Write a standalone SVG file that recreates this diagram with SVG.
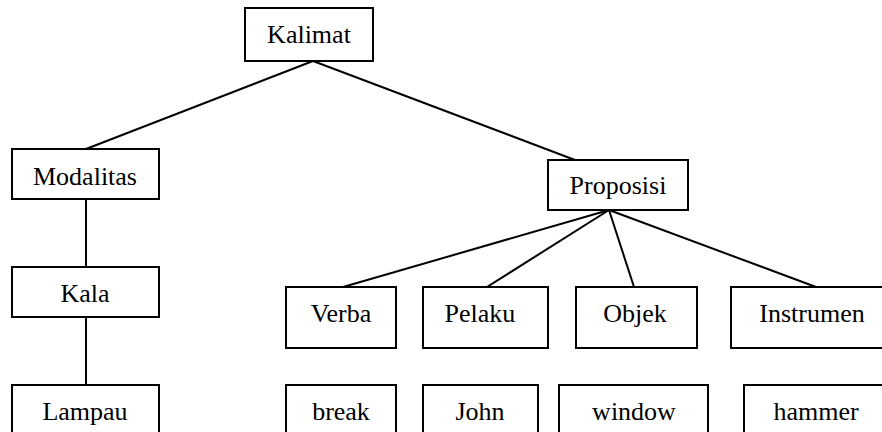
<svg xmlns="http://www.w3.org/2000/svg" width="882" height="432" viewBox="0 0 882 432">
<style>
.box{fill:#fff;stroke:#000;stroke-width:2}
.lbl{font-family:"Liberation Serif","Times New Roman",serif;font-size:26px;fill:#000;text-anchor:middle}
.edge{stroke:#000;stroke-width:2;fill:none}
</style>
<rect width="882" height="432" fill="#fff"/>
<g id="connectors">
<line class="edge" x1="313" y1="61" x2="86" y2="149"/>
<line class="edge" x1="313" y1="61" x2="575" y2="160"/>
<line class="edge" x1="86" y1="199" x2="86" y2="267"/>
<line class="edge" x1="86" y1="317" x2="86" y2="385"/>
<line class="edge" x1="609" y1="210" x2="343" y2="287"/>
<line class="edge" x1="609" y1="210" x2="487" y2="287"/>
<line class="edge" x1="609" y1="210" x2="634" y2="287"/>
<line class="edge" x1="609" y1="210" x2="816" y2="287"/>
</g>
<g id="kalimat"><rect class="box" x="245" y="8" width="128" height="53"/><text class="lbl" x="309" y="43">Kalimat</text></g>
<g id="modalitas"><rect class="box" x="12" y="149" width="147" height="50"/><text class="lbl" x="85" y="185">Modalitas</text></g>
<g id="proposisi"><rect class="box" x="548" y="160" width="140" height="50"/><text class="lbl" x="618" y="194">Proposisi</text></g>
<g id="kala"><rect class="box" x="12" y="267" width="147" height="50"/><text class="lbl" x="85" y="302">Kala</text></g>
<g id="lampau"><rect class="box" x="12" y="385" width="147" height="60"/><text class="lbl" x="85" y="420">Lampau</text></g>
<g id="verba"><rect class="box" x="286" y="287" width="110" height="61"/><text class="lbl" x="341" y="322">Verba</text></g>
<g id="pelaku"><rect class="box" x="423" y="287" width="125" height="61"/><text class="lbl" x="480" y="322">Pelaku</text></g>
<g id="objek"><rect class="box" x="576" y="287" width="121" height="61"/><text class="lbl" x="635" y="322">Objek</text></g>
<g id="instrumen"><rect class="box" x="731" y="287" width="160" height="61"/><text class="lbl" x="812" y="322">Instrumen</text></g>
<g id="break"><rect class="box" x="286" y="385" width="110" height="60"/><text class="lbl" x="341" y="420">break</text></g>
<g id="john"><rect class="box" x="423" y="385" width="115" height="60"/><text class="lbl" x="480" y="420">John</text></g>
<g id="window"><rect class="box" x="559" y="385" width="149" height="60"/><text class="lbl" x="634" y="420">window</text></g>
<g id="hammer"><rect class="box" x="744" y="385" width="150" height="60"/><text class="lbl" x="816" y="420">hammer</text></g>
</svg>
